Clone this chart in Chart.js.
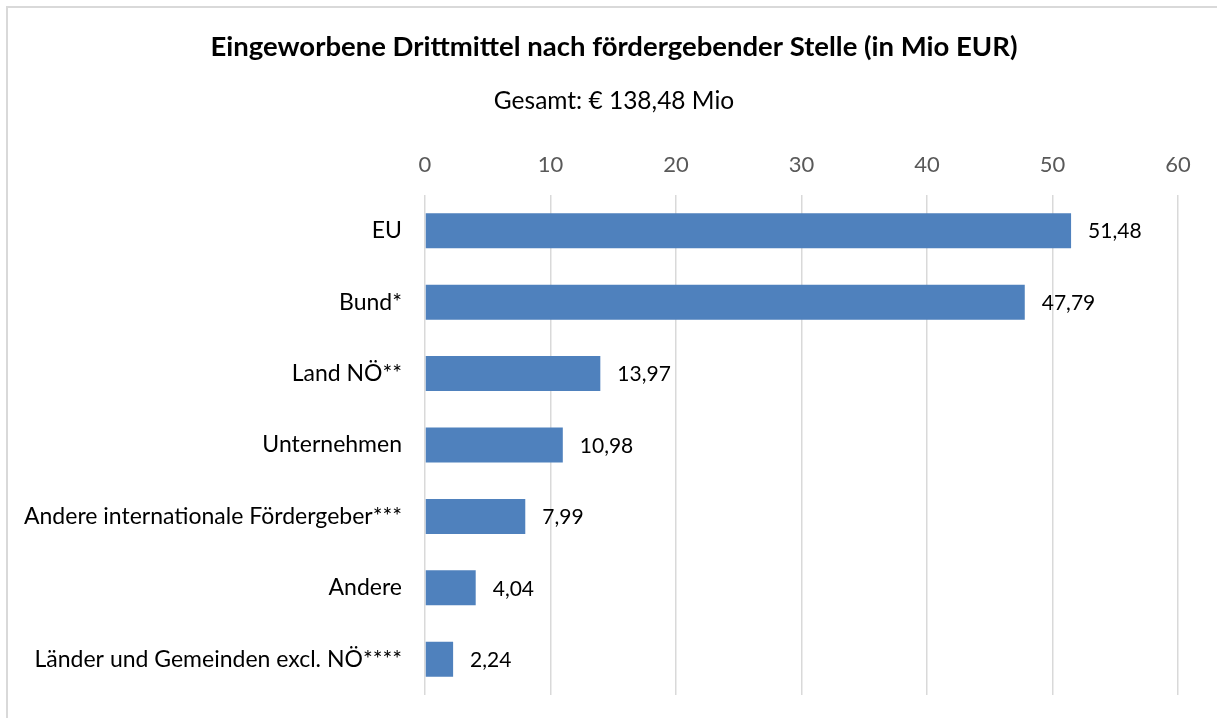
<!DOCTYPE html>
<html>
<head>
<meta charset="utf-8">
<script src="https://cdn.jsdelivr.net/npm/chart.js@4"></script>
<style>
  body { margin: 0; background: #fff; overflow: hidden; }
  #frame { position: absolute; left: 6px; top: 6px; width: 1300px; height: 800px; border: 2px solid #d9d9d9; }
  #chart { position: absolute; left: 0; top: 0; }
</style>
</head>
<body>
<div id="frame"></div>
<canvas id="chart" width="1217" height="718"></canvas>
<script>
const categories = [
  "EU",
  "Bund*",
  "Land NÖ**",
  "Unternehmen",
  "Andere internationale Fördergeber***",
  "Andere",
  "Länder und Gemeinden excl. NÖ****"
];
const values = [51.48, 47.79, 13.97, 10.98, 7.99, 4.04, 2.24];
const axisMin = 0;
const axisMax = 60;
const axisStep = 10;

const titleText = "Eingeworbene Drittmittel nach fördergebender Stelle (in Mio EUR)";
const subtitleText = "Gesamt: € 138,48 Mio";

const FONT = "Lato, 'Open Sans', sans-serif";

// Titel + Untertitel (nicht ueber der Plotflaeche zentriert, daher selbst gezeichnet)
const headings = {
  id: "headings",
  afterDraw(chart) {
    const ctx = chart.ctx;
    ctx.save();
    ctx.fillStyle = "#000";
    ctx.textAlign = "center";
    ctx.textBaseline = "middle";
    ctx.font = "bold 27.5px " + FONT;
    ctx.fillText(titleText, 614, 47);
    ctx.font = "24.5px " + FONT;
    ctx.fillText(subtitleText, 614, 101);
    ctx.restore();
  }
};

// Werte rechts neben den Balken
const valueLabels = {
  id: "valueLabels",
  afterDatasetsDraw(chart) {
    const ctx = chart.ctx;
    const meta = chart.getDatasetMeta(0);
    ctx.save();
    ctx.font = "21px " + FONT;
    ctx.fillStyle = "#000";
    ctx.textAlign = "left";
    ctx.textBaseline = "middle";
    meta.data.forEach((bar, i) => {
      const txt = values[i].toFixed(2).replace(".", ",");
      ctx.fillText(txt, bar.x + 17, bar.y + 1);
    });
    ctx.restore();
  }
};

new Chart(document.getElementById("chart"), {
  type: "bar",
  data: {
    labels: categories,
    datasets: [{
      data: values,
      backgroundColor: "#4f81bd",
      borderWidth: 0,
      barPercentage: 0.49,
      categoryPercentage: 1
    }]
  },
  options: {
    indexAxis: "y",
    responsive: false,
    animation: false,
    layout: { padding: { left: 0, right: 39, top: 134.6, bottom: 23 } },
    plugins: {
      legend: { display: false },
      tooltip: { enabled: false }
    },
    scales: {
      x: {
        position: "top",
        min: axisMin,
        max: axisMax,
        ticks: {
          stepSize: axisStep,
          color: "#595959",
          font: { family: FONT, size: 22 },
          padding: 17
        },
        grid: { color: "#d9d9d9", lineWidth: 1.5, drawTicks: false },
        border: { display: false }
      },
      y: {
        ticks: {
          color: "#000",
          font: { family: FONT, size: 23 },
          padding: 23
        },
        grid: { display: false, drawTicks: false },
        border: { display: false },
        afterFit(scale) {
          scale.width = 425;
          scale.paddingTop = 0;
          scale.paddingBottom = 0;
        }
      }
    }
  },
  plugins: [valueLabels, headings]
});
</script>
</body>
</html>
